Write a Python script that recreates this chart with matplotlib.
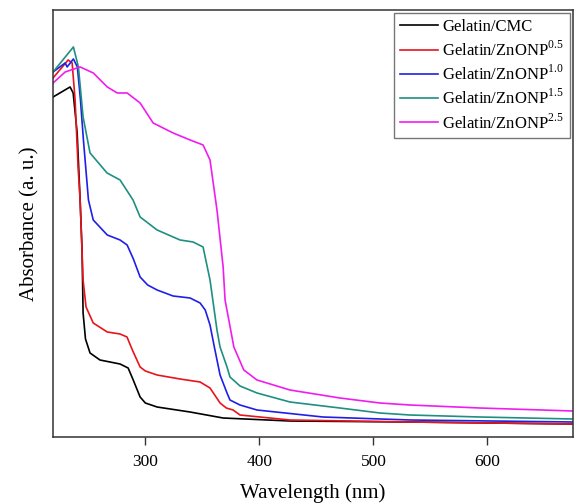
import numpy as np
import matplotlib.pyplot as plt

# UV-vis spectra (arbitrary absorbance units)
wl_cmc = [219.1, 234.0, 236.7, 240.2, 242.8, 244.5, 245.4, 247.5, 251.5, 260.2, 277.8, 284.9,
          289.0, 295.4, 300.0, 310.3, 339.2, 368.2, 426.8, 532.0, 675.0]
abs_cmc = [3.40, 3.50, 3.44, 3.04, 2.37, 1.87, 1.24, 0.98, 0.84, 0.77, 0.73, 0.69,
           0.58, 0.40, 0.34, 0.30, 0.25, 0.19, 0.16, 0.15, 0.13]

wl_05 = [219.1, 232.3, 235.8, 238.4, 241.0, 242.8, 245.4, 248.0, 254.3, 266.6, 277.8, 283.9,
         289.0, 295.4, 300.0, 310.3, 330.4, 348.0, 356.7, 362.0, 365.5, 371.0, 376.9, 383.0,
         426.8, 532.0, 675.0]
abs_05 = [3.59, 3.77, 3.74, 3.37, 2.70, 2.37, 1.57, 1.30, 1.14, 1.05, 1.03, 1.00,
          0.86, 0.70, 0.66, 0.62, 0.58, 0.55, 0.49, 0.40, 0.34, 0.29, 0.27, 0.22,
          0.17, 0.15, 0.13]

wl_10 = [219.1, 229.7, 231.4, 236.9, 240.4, 243.1, 245.7, 250.1, 254.3, 266.6, 277.8,
         284.0, 289.5, 295.4, 302.0, 310.3, 324.3, 339.2, 348.0, 352.5, 356.7, 360.5, 365.5,
         371.6, 374.2, 383.0, 397.9, 455.7, 532.0, 675.0]
abs_10 = [3.65, 3.74, 3.70, 3.78, 3.70, 3.37, 2.97, 2.37, 2.17, 2.02, 1.97,
          1.92, 1.78, 1.60, 1.52, 1.47, 1.41, 1.39, 1.34, 1.27, 1.12, 0.90, 0.62,
          0.44, 0.37, 0.32, 0.27, 0.20, 0.17, 0.15]

wl_15 = [219.1, 236.9, 241.3, 245.4, 251.5, 266.4, 277.8, 289.2, 295.4, 310.3, 330.4,
         341.8, 350.6, 356.7, 362.8, 365.5, 371.6, 374.2, 383.0, 397.9, 426.8, 470.6,
         505.7, 532.0, 593.4, 675.0]
abs_15 = [3.65, 3.90, 3.70, 3.20, 2.84, 2.64, 2.57, 2.37, 2.20, 2.07, 1.97,
          1.95, 1.90, 1.57, 1.07, 0.90, 0.70, 0.60, 0.51, 0.44, 0.35, 0.29,
          0.24, 0.22, 0.20, 0.18]

wl_25 = [219.1, 229.7, 242.8, 254.3, 266.6, 275.3, 284.0, 295.4, 306.8, 324.3, 339.2,
         350.6, 356.7, 362.8, 368.2, 369.9, 377.6, 386.3, 397.9, 426.8, 470.6, 505.7,
         532.0, 593.4, 675.0]
abs_25 = [3.54, 3.65, 3.70, 3.64, 3.50, 3.44, 3.44, 3.34, 3.14, 3.04, 2.97,
          2.92, 2.77, 2.27, 1.70, 1.37, 0.90, 0.67, 0.57, 0.47, 0.39, 0.34,
          0.32, 0.29, 0.26]

labels = ['Gelatin/CMC', 'Gelatin/ZnONP$^{0.5}$', 'Gelatin/ZnONP$^{1.0}$',
          'Gelatin/ZnONP$^{1.5}$', 'Gelatin/ZnONP$^{2.5}$']
colors = ['black', '#e8141c', '#1f1fe8', '#1e8f80', '#f01cf0']

plt.rcParams['font.family'] = ['Liberation Serif', 'DejaVu Serif']
plt.rcParams['mathtext.fontset'] = 'custom'
plt.rcParams['mathtext.rm'] = 'Liberation Serif'

fig = plt.figure(figsize=(5.74, 5.03), dpi=100)
ax = fig.add_axes([0.0923, 0.1312, 0.906, 0.849])

series = [(wl_cmc, abs_cmc), (wl_05, abs_05), (wl_10, abs_10), (wl_15, abs_15), (wl_25, abs_25)]
for (x, y), lab, c in zip(series, labels, colors):
    ax.plot(x, y, color=c, lw=1.2, label=lab, solid_joinstyle='round')

ax.set_xlim(219, 675)
ax.set_ylim(0, 4.27)
ax.set_xticks([300, 400, 500, 600])
ax.set_yticks([])
ax.tick_params(axis='x', direction='out', length=6, width=1, labelsize=12.5, pad=6, color='#333333')
for s in ax.spines.values():
    s.set_color('#333333')
    s.set_linewidth(1.1)

ax.set_xlabel('Wavelength (nm)', fontsize=15, labelpad=10)
ax.set_ylabel('Absorbance (a. u.)', fontsize=15, labelpad=10)

leg = ax.legend(loc='upper right', fontsize=12, frameon=True, fancybox=False,
                edgecolor='#555555', handlelength=2.3, handletextpad=0.25,
                labelspacing=0.3, borderaxespad=0.2, borderpad=0.35)
leg.get_frame().set_linewidth(1.0)

fig.savefig('out.png', dpi=100)
